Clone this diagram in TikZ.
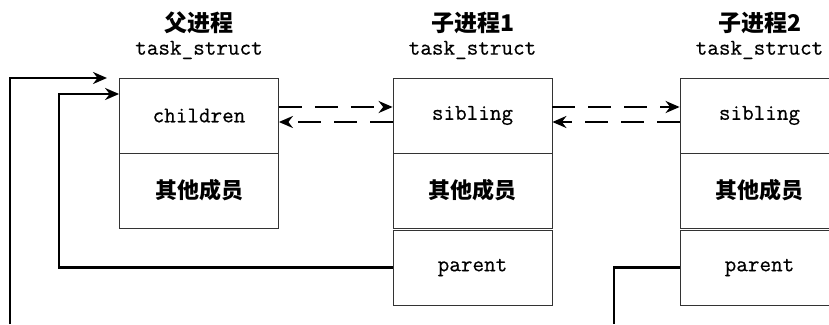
\documentclass[tikz,border=0pt]{standalone}
\usepackage{fontspec}
\newfontfamily\cjk{Noto Sans CJK SC}
\newfontfamily\code{Latin Modern Mono}[FakeBold=0.5]
\usetikzlibrary{shapes, arrows.meta}
\tikzstyle{field} = [rectangle, minimum width=159pt, minimum height=75pt, text centered, draw=black!80, line width=0.8pt, font=\code\fontsize{22.5}{26}\selectfont]
\tikzstyle{member} = [field, font=\cjk\bfseries\fontsize{22}{26}\selectfont]
\tikzstyle{title} = [text centered, font=\cjk\bfseries\fontsize{23}{27}\selectfont]
\tikzstyle{subtitle} = [text centered, font=\code\fontsize{22.5}{26}\selectfont]
\tikzstyle{edge} = [line width=2.4pt, -{Stealth[length=14pt,width=12pt]}]
\tikzstyle{link} = [edge, dash pattern=on 23pt off 13pt]
\tikzstyle{wire} = [line width=2.4pt]

\begin{document}
\begin{tikzpicture}[x=1pt, y=1pt, node distance=75pt]
\clip (0,0) rectangle (829,324);

% parent process
\node (t0) [title] at (199,301) {父进程};
\node (s0) [subtitle] at (199,274) {task\_struct};
\node (0) [field] at (199,208.5) {children};
\node (1) [member, below of=0] {其他成员};

% first child
\node (t1) [title] at (472.5,301) {子进程1};
\node (s1) [subtitle] at (472.5,274) {task\_struct};
\node (2) [field] at (472.5,208.5) {sibling};
\node (3) [member, below of=2] {其他成员};
\node (4) [field, below of=3, yshift=-2pt] {parent};

% second child
\node (t2) [title] at (759.5,301) {子进程2};
\node (s2) [subtitle] at (759.5,274) {task\_struct};
\node (5) [field] at (759.5,208.5) {sibling};
\node (6) [member, below of=5] {其他成员};
\node (7) [field, below of=6, yshift=-2pt] {parent};

\coordinate (a) at (10,0);
\coordinate (b) at (107,246);
\coordinate (c) at (59,230);
\coordinate (d) at (614,0);

% list links
\draw [link] ([yshift=8.5pt]0.east) -- ([yshift=8.5pt]2.west);
\draw [link] ([yshift=-6.5pt]2.west) -- ([yshift=-6.5pt]0.east);
\draw [link] ([yshift=8.5pt]2.east) -- ([yshift=8.5pt]5.west);
\draw [link] ([yshift=-6.5pt]5.west) -- ([yshift=-6.5pt]2.east);

% parent pointers
\draw [edge] (a) |- (b);
\draw [edge] (4.west) -| (c) -- ([yshift=21.5pt]0.west);
\draw [wire] (7.west) -| (d);

\end{tikzpicture}
\end{document}
